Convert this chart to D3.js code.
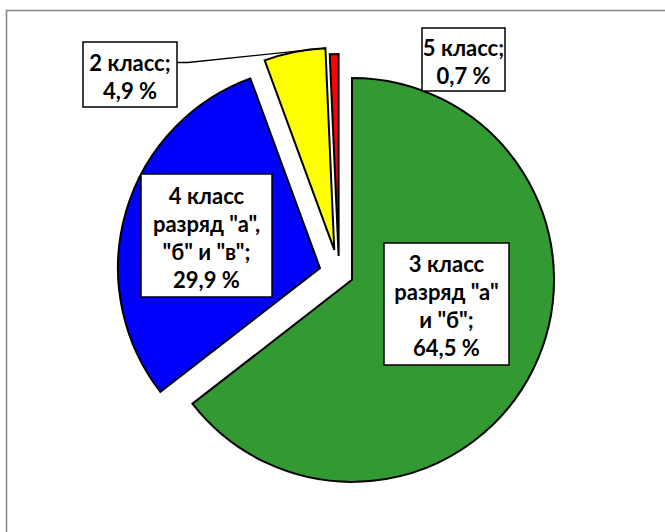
<!DOCTYPE html>
<html>
<head>
<meta charset="utf-8">
<script src="https://cdn.jsdelivr.net/npm/d3@7"></script>
<style>
  html, body { margin: 0; padding: 0; background: #fff; }
  svg { display: block; }
</style>
</head>
<body>
<svg id="chart" width="665" height="532"></svg>
<script>
// ---- data ----
const categories = ["3 класс разряд \"а\" и \"б\"", "4 класс разряд \"а\", \"б\" и \"в\"", "2 класс", "5 класс"];
const values = [64.5, 29.9, 4.9, 0.7];
const labelLines = [
  ["3 класс", "разряд \"а\"", "и \"б\";", "64,5 %"],
  ["4 класс", "разряд \"а\",", "\"б\" и \"в\";", "29,9 %"],
  ["2 класс;", "4,9 %"],
  ["5 класс;", "0,7 %"]
];
const colors = ["#339933", "#0000ff", "#ffff00", "#ff0000"];

// ---- layout ----
const W = 665, H = 532;
const center = { x: 339, y: 273.5 };
const radius = 202;
const explode = [14.5, 19.8, 24, 17.5];
const labelBoxes = [
  { cx: 446.5, cy: 304, w: 125, h: 122 },
  { cx: 206.5, cy: 235.5, w: 131, h: 123 },
  { cx: 130, cy: 74.5, w: 94, h: 65 },
  { cx: 463.5, cy: 59.5, w: 83, h: 63 }
];
const lineGap = 28;

const svg = d3.select("#chart");

// chart frame
svg.append("rect")
  .attr("x", 6.5).attr("y", 10.5)
  .attr("width", W + 20).attr("height", H + 20)
  .attr("fill", "#fff")
  .attr("stroke", "#898989").attr("stroke-width", 1.6);

const pie = d3.pie().sort(null).value(d => d).startAngle(0).endAngle(2 * Math.PI);
const arcs = pie(values);
const arc = d3.arc().innerRadius(0).outerRadius(radius);

const g = svg.append("g").attr("transform", `translate(${center.x},${center.y})`);

g.selectAll("path.slice")
  .data(arcs)
  .join("path")
  .attr("class", "slice")
  .attr("transform", (d, i) => {
    const a = (d.startAngle + d.endAngle) / 2;
    return `translate(${Math.sin(a) * explode[i]},${-Math.cos(a) * explode[i]})`;
  })
  .attr("d", arc)
  .attr("fill", (d, i) => colors[i])
  .attr("stroke", "#000")
  .attr("stroke-width", 2)
  .attr("stroke-linejoin", "miter");

// leader line for "2 класс"
{
  const d = arcs[2];
  const a = d.endAngle;
  const ex = center.x + Math.sin((d.startAngle + d.endAngle) / 2) * explode[2];
  const ey = center.y - Math.cos((d.startAngle + d.endAngle) / 2) * explode[2];
  const px = ex + Math.sin(a) * radius, py = ey - Math.cos(a) * radius;
  const b = labelBoxes[2];
  svg.append("path")
    .attr("d", d3.line()([[b.cx + b.w / 2, b.cy - 12], [b.cx + b.w / 2 + 11, b.cy - 12], [px, py]]))
    .attr("fill", "none").attr("stroke", "#000").attr("stroke-width", 1.3);
}

// labels
const lab = svg.append("g");
labelBoxes.forEach((b, i) => {
  lab.append("rect")
    .attr("x", b.cx - b.w / 2).attr("y", b.cy - b.h / 2)
    .attr("width", b.w).attr("height", b.h)
    .attr("fill", "#fff").attr("stroke", "#000").attr("stroke-width", 1.5);
  const lines = labelLines[i];
  lines.forEach((t, j) => {
    lab.append("text")
      .attr("x", b.cx)
      .attr("y", b.cy + (j - (lines.length - 1) / 2) * lineGap + 1.5)
      .attr("text-anchor", "middle")
      .attr("dominant-baseline", "central")
      .attr("font-family", "Lato, 'Open Sans', sans-serif")
      .attr("font-weight", "bold")
      .attr("font-size", 22)
      .attr("fill", "#000")
      .text(t);
  });
});
</script>
</body>
</html>
